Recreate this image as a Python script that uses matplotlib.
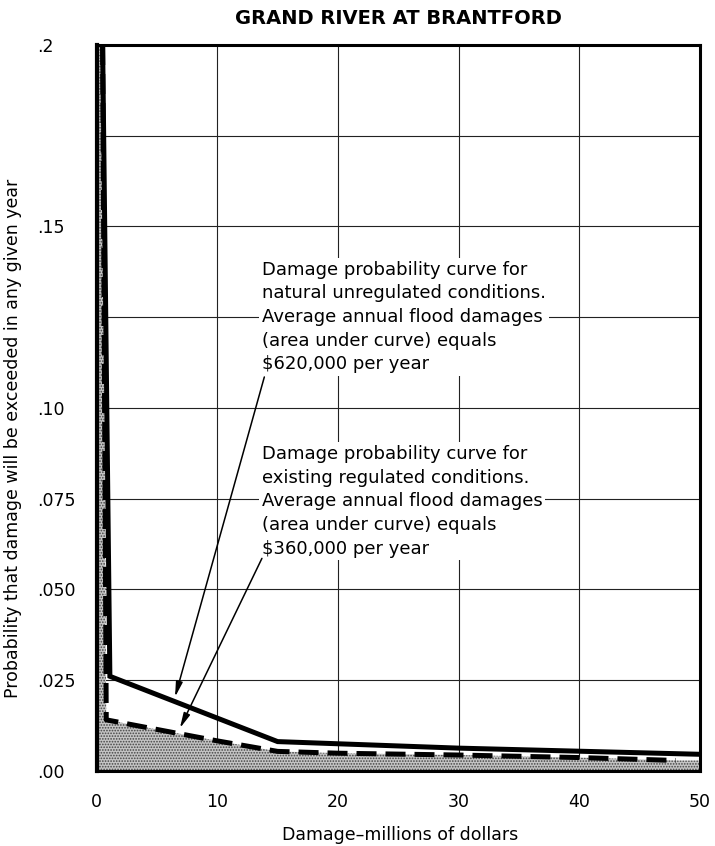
import numpy as np
import matplotlib
matplotlib.use("Agg")
from matplotlib import pyplot as plt

# damage (millions of dollars) vs. exceedance probability
natural_x = [0.5, 1.1, 15, 30, 50]
natural_y = [0.2, 0.026, 0.008, 0.0062, 0.0045]
regulated_x = [0.5, 0.8, 10, 15, 20, 30, 40, 48]
regulated_y = [0.2, 0.014, 0.0082, 0.0053, 0.0048, 0.0043, 0.0036, 0.0028]

x_ticks = [0, 10, 20, 30, 40, 50]
y_ticks = [0, 0.025, 0.05, 0.075, 0.10, 0.15, 0.2]
y_tick_labels = [".00", ".025", ".050", ".075", ".10", ".15", ".2"]
y_minor = [0.125, 0.175]

natural_note = ("Damage probability curve for\n"
                "natural unregulated conditions.\n"
                "Average annual flood damages\n"
                "(area under curve) equals\n"
                "$620,000 per year")
regulated_note = ("Damage probability curve for\n"
                  "existing regulated conditions.\n"
                  "Average annual flood damages\n"
                  "(area under curve) equals\n"
                  "$360,000 per year")

plt.rcParams["font.family"] = ["DejaVu Sans"]
plt.rcParams["hatch.linewidth"] = 0.8

fig = plt.figure(figsize=(7.15, 8.46), dpi=100)
ax = fig.add_axes([0.1351, 0.0891, 0.8439, 0.8577])
ax.set_xlim(0, 50)
ax.set_ylim(0, 0.2)

# grid
ax.set_xticks(x_ticks)
ax.set_yticks(y_ticks)
ax.set_yticks(y_minor, minor=True)
ax.set_yticklabels(y_tick_labels)
ax.grid(True, which="both", color="#222222", lw=0.8, zorder=1)
ax.set_axisbelow(True)
ax.tick_params(which="both", length=0)
ax.tick_params(axis="x", labelsize=12.5, pad=16)
ax.tick_params(axis="y", labelsize=12.5, pad=43)
for lab in ax.get_yticklabels():
    lab.set_horizontalalignment("left")

# stippled area under the regulated curve
poly_x = np.concatenate([[0], regulated_x, [50, 50, 0]])
poly_y = np.concatenate([[0.2], regulated_y, [regulated_y[-1], 0, 0]])
ax.fill(poly_x, poly_y, facecolor="#c4c4c4", edgecolor="#444444",
        hatch="......", lw=0, zorder=2)

ax.plot(natural_x, natural_y, color="black", lw=3.6,
        solid_joinstyle="miter", zorder=4)
ax.plot(regulated_x, regulated_y, color="black", lw=3.6,
        linestyle=(0, (4, 1.8)), zorder=4)

box = dict(facecolor="white", edgecolor="none", pad=2)
ax.text(13.7, 0.1405, natural_note, fontsize=13, va="top", ha="left",
        linespacing=1.4, bbox=box, zorder=3)
ax.text(13.7, 0.0897, regulated_note, fontsize=13, va="top", ha="left",
        linespacing=1.4, bbox=box, zorder=3)

arrow = dict(arrowstyle="-|>,head_length=0.9,head_width=0.2", lw=1.1,
             color="black", shrinkA=0, shrinkB=0)
ax.annotate("", xy=(6.5, 0.0203), xytext=(13.9, 0.1085),
            arrowprops=arrow, zorder=5)
ax.annotate("", xy=(6.9, 0.0117), xytext=(13.7, 0.0585),
            arrowprops=arrow, zorder=5)

for side in ["top", "right", "bottom"]:
    ax.spines[side].set_linewidth(2.2)
ax.spines["left"].set_linewidth(3)

fig.text(0.557, 0.9787, "GRAND RIVER AT BRANTFORD", fontsize=14,
         fontweight="bold", ha="center", va="center")
fig.text(0.559, 0.0130, "Damage\u2013millions of dollars", fontsize=12.5,
         ha="center", va="center")
fig.text(0.018, 0.482, "Probability that damage will be exceeded in any given year",
         fontsize=12.5, rotation=90, ha="center", va="center")

fig.savefig("out.png", dpi=100)
